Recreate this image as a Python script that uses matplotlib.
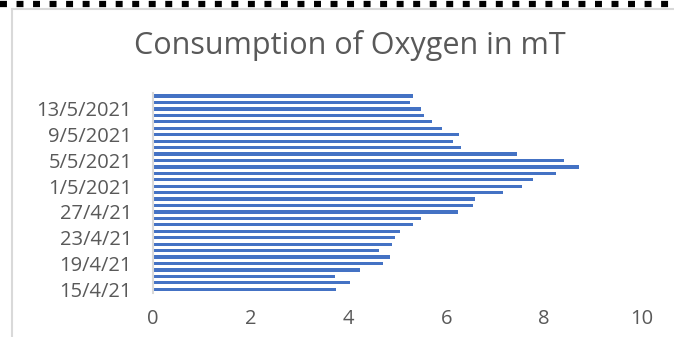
import datetime as dt
import matplotlib
matplotlib.use("Agg")
import matplotlib.pyplot as plt
from matplotlib.lines import Line2D

plt.rcParams["font.family"] = ["Open Sans", "DejaVu Sans"]
plt.rcParams["lines.scale_dashes"] = False

# daily oxygen consumption, 15/4/2021 .. 15/5/2021 (bottom to top)
start = dt.date(2021, 4, 15)
oxygen = [3.75, 4.03, 3.72, 4.24, 4.70, 4.84, 4.63, 4.89, 4.95, 5.05,
          5.31, 5.49, 6.24, 6.55, 6.58, 7.16, 7.55, 7.78, 8.25, 8.72,
          8.40, 7.44, 6.30, 6.14, 6.25, 5.91, 5.70, 5.55, 5.49, 5.26,
          5.31]
dates = [start + dt.timedelta(days=i) for i in range(len(oxygen))]
# excel shows april as d/m/yy and may as d/m/yyyy
labels = [f"{d.day}/{d.month}/{d.strftime('%y') if d.month == 4 else d.year}" for d in dates]
tick_idx = list(range(0, len(dates), 4))
x_ticks = [0, 2, 4, 6, 8, 10]

grey = "#595959"
bar_col = "#4472C4"

fig = plt.figure(figsize=(6.74, 3.37), dpi=100)
ax = fig.add_axes([0.227, 0.132, 0.7255, 0.5926])

pos = list(range(len(oxygen)))
ax.barh(pos, oxygen, height=0.5, color=bar_col)
ax.set_ylim(-0.5, len(oxygen) - 0.5)
ax.set_xlim(0, 10)
ax.set_xticks(x_ticks)
ax.set_xticklabels([str(t) for t in x_ticks])
ax.set_yticks(tick_idx)
ax.set_yticklabels([labels[i] for i in tick_idx])
ax.tick_params(length=0, labelsize=14.5, colors=grey)
ax.tick_params(axis="x", pad=12)
ax.tick_params(axis="y", pad=15)
for s in ["top", "right", "bottom"]:
    ax.spines[s].set_visible(False)
ax.spines["left"].set_color("#D9D9D9")
ax.spines["left"].set_linewidth(1.5)

fig.text(0.519, 0.865, "Consumption of Oxygen in mT", ha="center", va="center",
         fontsize=22, color=grey)

# chart border (light grey) and dotted black line on top
W, H = 674, 337
fig.add_artist(Line2D([12 / W, 1], [1 - 9 / H, 1 - 9 / H], color="#D9D9D9", lw=1.5,
                      transform=fig.transFigure))
fig.add_artist(Line2D([12 / W, 12 / W], [0, 1 - 9 / H], color="#D9D9D9", lw=1.5,
                      transform=fig.transFigure))
fig.add_artist(Line2D([0, 1], [1 - 4 / H, 1 - 4 / H], color="black", lw=4.5,
                      solid_capstyle="butt", dash_capstyle="butt",
                      dashes=(5.0, 6.9), transform=fig.transFigure))

fig.savefig("out.png", dpi=100)
